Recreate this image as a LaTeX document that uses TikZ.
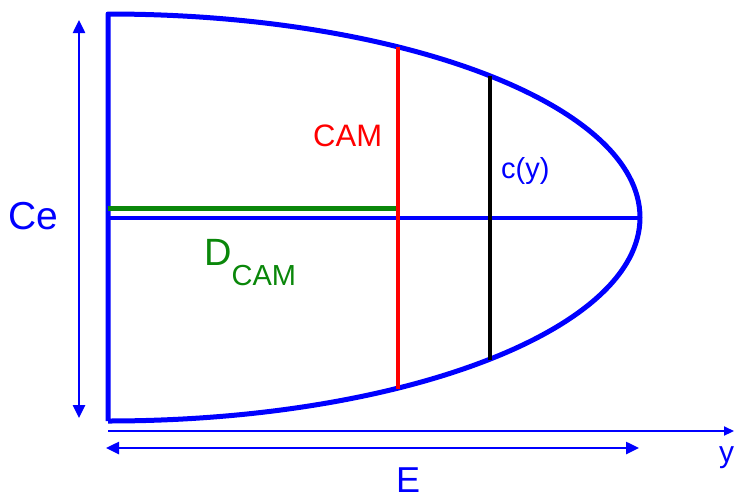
\documentclass[tikz,border=0pt]{standalone}
\usepackage{fontspec}
\setmainfont{Liberation Sans}
\usetikzlibrary{arrows.meta}
\definecolor{myblue}{RGB}{0,0,255}
\definecolor{myred}{RGB}{255,0,0}
\definecolor{mygreen}{RGB}{10,135,10}
\begin{document}
\begin{tikzpicture}[x=1pt,y=-1pt,
  lbl/.style={inner sep=0pt,anchor=base west},
  dim/.style={myblue,line width=2.5pt,{Triangle[length=13pt,width=12pt]}-{Triangle[length=13pt,width=12pt]}},
  axis/.style={myblue,line width=2.2pt,-{Triangle[length=10pt,width=9pt]}}]
\useasboundingbox (0,0) rectangle (734,501);
% key points
\coordinate (tl) at (108,14);
\coordinate (bl) at (108,421);
\coordinate (c) at (108,217.5);
\coordinate (tip) at (640,217.5);
\coordinate (gE) at (398,208);
\coordinate (gS) at (108,208);
\coordinate (rT) at (398,46.5);
\coordinate (rB) at (398,388.5);
\coordinate (kT) at (490,75.5);
\coordinate (kB) at (490,359.5);
% outline
\draw[myblue,line width=5pt,line join=round] (bl) -- (tl) arc[start angle=90,end angle=-90,x radius=532pt,y radius=203.5pt];
% centre line
\draw[myblue,line width=4pt] (c) -- (tip);
% green
\draw[mygreen,line width=5pt] (gS) -- (gE);
% red and black chords
\draw[myred,line width=4pt] (rT) -- (rB);
\draw[black,line width=4pt] (kT) -- (kB);
% dimension arrows
\coordinate (ceT) at (79,20);
\coordinate (ceB) at (79,418);
\draw[dim] (ceT) -- (ceB);
\coordinate (eL) at (106,448);
\coordinate (eR) at (639,448);
\draw[dim] (eL) -- (eR);
\coordinate (axL) at (108,431);
\coordinate (axR) at (734,431);
\draw[axis] (axL) -- (axR);
% labels
\node[lbl,myblue,font=\fontsize{39}{42}\selectfont] (ce) at (8,229) {Ce};
\node[lbl,mygreen,font=\fontsize{38}{40}\selectfont] (dcam) at (204,265) {D\raisebox{-20pt}{\fontsize{29}{30}\selectfont CAM}};
\node[lbl,myred,font=\fontsize{31}{34}\selectfont] (cam) at (313,146) {CAM};
\node[lbl,myblue,font=\fontsize{29}{30}\selectfont] (cy) at (501,178) {c(y)};
\node[lbl,myblue,font=\fontsize{36}{40}\selectfont] (e) at (396,492) {E};
\node[lbl,myblue,font=\fontsize{30}{32}\selectfont] (y) at (719,462) {y};
\end{tikzpicture}
\end{document}
